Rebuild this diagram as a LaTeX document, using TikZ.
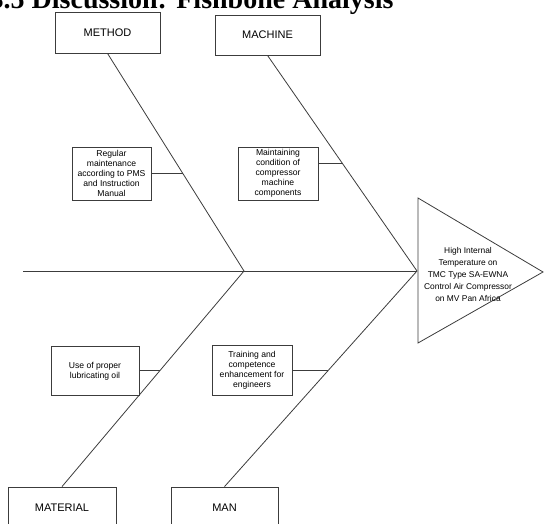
\documentclass[tikz,border=0pt]{standalone}
\usepackage{fontspec}
\setmainfont{Liberation Sans}
\newfontfamily\headfont{Liberation Serif}
\usetikzlibrary{calc}
\definecolor{FBLine}{RGB}{60,60,60}

\begin{document}
\begin{tikzpicture}[x=1pt,y=-1pt,
    catbox/.style={draw=FBLine,line width=.8pt,fill=white,font=\fontsize{11}{13}\selectfont,inner sep=0pt},
    causebox/.style={draw=FBLine,line width=.8pt,fill=white,align=center,font=\fontsize{8.6}{10}\selectfont,inner sep=1pt},
    bone/.style={draw=FBLine,line width=.8pt}]
      \useasboundingbox (0,0) rectangle (544,524);
      \node[anchor=base east,font=\headfont\bfseries\fontsize{28}{30}\selectfont] (title) at (397,9) {3.5 Discussion: Fishbone Analysis};
      % main categories
      \node[catbox,minimum width=105pt,minimum height=41pt] (method) at (107.5,32.5) {METHOD};
      \node[catbox,minimum width=105pt,minimum height=40pt] (machine) at (267.5,35) {MACHINE};
      \node[catbox,minimum width=108pt,minimum height=41pt] (material) at (62,507.5) {MATERIAL};
      \node[catbox,minimum width=107pt,minimum height=41pt] (man) at (224.5,507.5) {MAN};
      % spine and head
      \coordinate (tail) at (23,271);
      \coordinate (jl) at (244,271);
      \coordinate (jr) at (417,271);
      \coordinate (headtop) at (418,198);
      \coordinate (headtip) at (543,272);
      \coordinate (headbot) at (418,343);
      \draw[bone] (headtop) -- (headtip) -- (headbot) -- cycle;
      \node[align=center,font=\fontsize{8.4}{12}\selectfont] (effect) at (468,274) {High Internal\\Temperature on\\TMC Type SA-EWNA\\Control Air Compressor\\on MV Pan Africa};
      \draw[bone] (tail) -- (jr);
      \draw[bone] (method.south) -- (jl);
      \draw[bone] (material.north) -- (jl);
      \draw[bone] (machine.south) -- (jr);
      \draw[bone] (man.north) -- (jr);
      % causes
      \node[causebox,minimum width=79pt,minimum height=53pt] (mthcause) at (111.5,173.5) {Regular\\maintenance\\according to PMS\\and Instruction\\Manual};
      \node[causebox,minimum width=80pt,minimum height=53pt] (mchcause) at (278,173.5) {Maintaining\\condition of\\compressor\\machine\\components};
      \node[causebox,minimum width=88pt,minimum height=49pt] (matcause) at (95,371) {Use of proper\\lubricating oil};
      \node[causebox,minimum width=80pt,minimum height=50pt] (mancause) at (252,370) {Training and\\competence\\enhancement for\\engineers};
      \coordinate (mthtick) at ($(method.south)!0.55!(jl)$);
      \coordinate (mchtick) at ($(machine.south)!0.5!(jr)$);
      \coordinate (mattick) at ($(material.north)!0.537!(jl)$);
      \coordinate (mantick) at ($(man.north)!0.54!(jr)$);
      \draw[bone] (mthcause.east |- mthtick) -- (mthtick);
      \draw[bone] (mchcause.east |- mchtick) -- (mchtick);
      \draw[bone] (matcause.east |- mattick) -- (mattick);
      \draw[bone] (mancause.east |- mantick) -- (mantick);
    \end{tikzpicture}
\end{document}
